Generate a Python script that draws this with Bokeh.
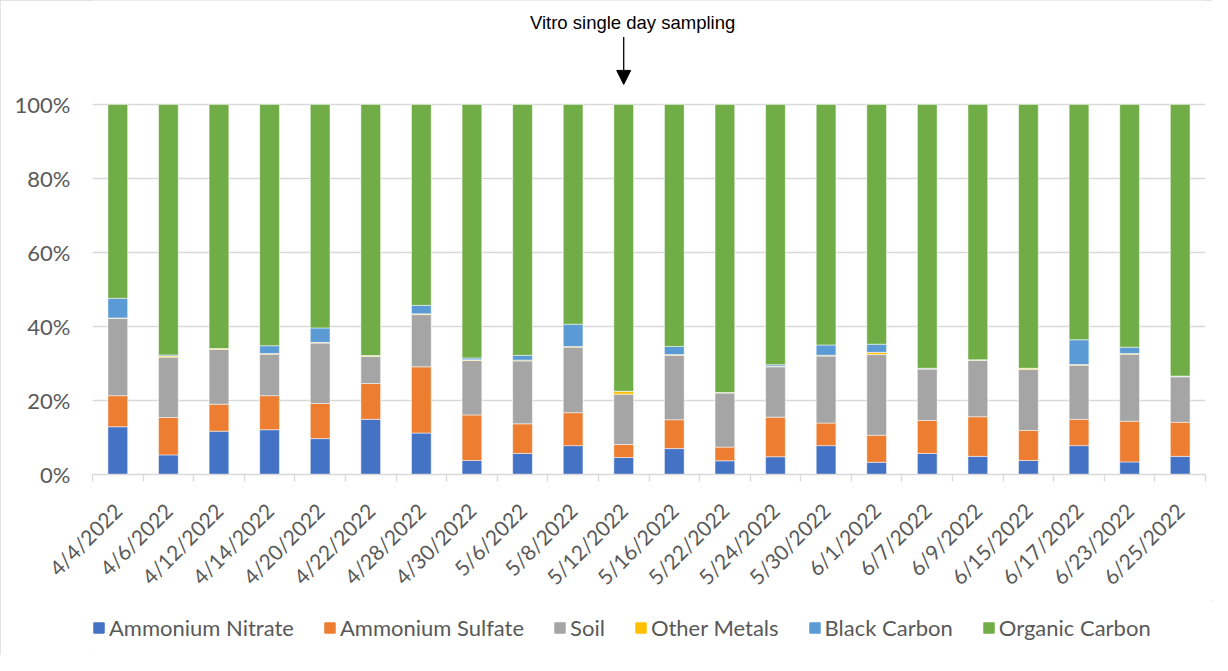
import math
from bokeh.plotting import figure
from bokeh.layouts import column
from bokeh.models import (FixedTicker, NumeralTickFormatter, Legend, LegendItem,
                          Range1d, Arrow, NormalHead, Label, ColumnDataSource)
from bokeh.embed import file_html
from bokeh.resources import INLINE

dates = ["4/4/2022", "4/6/2022", "4/12/2022", "4/14/2022", "4/20/2022", "4/22/2022",
         "4/28/2022", "4/30/2022", "5/6/2022", "5/8/2022", "5/12/2022", "5/16/2022",
         "5/22/2022", "5/24/2022", "5/30/2022", "6/1/2022", "6/7/2022", "6/9/2022",
         "6/15/2022", "6/17/2022", "6/23/2022", "6/25/2022"]

ammonium_nitrate = [12.9, 5.3, 11.7, 12.1, 9.7, 14.9, 11.2, 3.8, 5.7, 7.8, 4.6,
                    7.0, 3.7, 4.8, 7.8, 3.3, 5.7, 4.9, 3.8, 7.8, 3.4, 4.9]
ammonium_sulfate = [8.4, 10.1, 7.3, 9.2, 9.5, 9.7, 17.9, 12.3, 8.0, 8.9, 3.5,
                    7.8, 3.7, 10.7, 6.1, 7.3, 8.9, 10.7, 8.1, 7.1, 11.0, 9.2]
soil = [20.9, 16.3, 14.8, 11.2, 16.3, 7.3, 14.1, 14.7, 17.0, 17.7, 13.6,
        17.4, 14.6, 13.6, 18.1, 21.8, 13.9, 15.3, 16.5, 14.6, 18.1, 12.3]
other_metals = [0.1, 0.3, 0.2, 0.2, 0.2, 0.2, 0.2, 0.2, 0.2, 0.2, 0.8,
                0.2, 0.15, 0.15, 0.2, 0.6, 0.1, 0.1, 0.3, 0.2, 0.2, 0.1]
black_carbon = [5.3, 0.3, 0.05, 2.1, 3.9, 0.05, 2.3, 0.5, 1.3, 6.0, 0.0,
                2.2, 0.0, 0.4, 2.8, 2.2, 0.1, 0.0, 0.0, 6.7, 1.7, 0.1]
organic_carbon = [52.4, 67.7, 65.95, 65.2, 60.4, 67.85, 54.3, 68.5, 67.8, 59.4, 77.5,
                  65.4, 77.85, 70.35, 65.0, 64.8, 71.3, 69.0, 71.3, 63.6, 65.6, 73.4]

series_names = ["Ammonium Nitrate", "Ammonium Sulfate", "Soil", "Other Metals",
                "Black Carbon", "Organic Carbon"]
series_values = [ammonium_nitrate, ammonium_sulfate, soil, other_metals,
                 black_carbon, organic_carbon]
colors = ["#4472C4", "#ED7D31", "#A5A5A5", "#FFC000", "#5B9BD5", "#70AD47"]

y_ticks = [0, 0.2, 0.4, 0.6, 0.8, 1.0]

annotation_text = "Vitro single day sampling"
annotation_index = 10  # 5/12/2022

xs = list(range(len(dates)))
data = {"x": xs}
keys = []
for i, (name, vals) in enumerate(zip(series_names, series_values)):
    k = "s%d" % i
    keys.append(k)
    data[k] = [v / 100.0 for v in vals]
source = ColumnDataSource(data)

FONT = "Lato"
TXT = "#595959"
W = 1212

# main plot: frame from very top (room for annotation) to 0%
p = figure(width=W, height=600, output_backend="svg", toolbar_location=None,
           x_range=Range1d(-0.5, len(dates) - 0.5), y_range=Range1d(0, 1.2807),
           min_border_left=92, min_border_right=7, min_border_top=0,
           min_border_bottom=121)
p.outline_line_color = None
p.background_fill_color = "white"

renderers = p.vbar_stack(keys, x="x", width=0.39, source=source, color=colors,
                         line_color="white", line_alpha=0.5, line_width=1)

# y axis
p.yaxis.ticker = FixedTicker(ticks=y_ticks)
p.yaxis.formatter = NumeralTickFormatter(format="0%")
p.yaxis.axis_line_color = None
p.yaxis.major_tick_line_color = None
p.yaxis.minor_tick_line_color = None
p.yaxis.major_label_standoff = 16
p.yaxis.major_label_text_font = FONT
p.yaxis.major_label_text_font_size = "22px"
p.yaxis.major_label_text_color = TXT
p.ygrid.ticker = FixedTicker(ticks=y_ticks)
p.ygrid.grid_line_color = "#d9d9d9"
p.ygrid.grid_line_width = 1.3

# x axis
p.xaxis.ticker = FixedTicker(ticks=xs, minor_ticks=[i - 0.5 for i in range(len(dates) + 1)])
p.xaxis.major_label_overrides = {i: d for i, d in enumerate(dates)}
p.xaxis.major_tick_line_color = None
p.xaxis.minor_tick_line_color = "#d9d9d9"
p.xaxis.minor_tick_line_width = 1.3
p.xaxis.minor_tick_out = 7
p.xaxis.minor_tick_in = 0
p.xaxis.axis_line_color = "#d9d9d9"
p.xaxis.axis_line_width = 1.3
p.xaxis.major_label_orientation = math.pi / 4
p.xaxis.major_label_standoff = 25
p.xaxis.major_label_text_font = FONT
p.xaxis.major_label_text_font_size = "21px"
p.xaxis.major_label_text_color = TXT
p.xgrid.grid_line_color = None

# annotation
p.add_layout(Arrow(end=NormalHead(size=14, fill_color="black", line_color="black"),
                   x_start=annotation_index, y_start=1.182,
                   x_end=annotation_index, y_end=1.054,
                   line_color="black", line_width=1.3))
p.add_layout(Label(x=annotation_index + 0.176, y=1.222, text=annotation_text,
                   text_align="center", text_baseline="middle",
                   text_font="Liberation Sans", text_font_size="18.5px",
                   text_color="black"))

# legend strip (same stacked series, kept out of view, only used for the legend)
pl = figure(width=W, height=55, output_backend="svg", toolbar_location=None,
            x_range=Range1d(-0.5, len(dates) - 0.5), y_range=Range1d(5, 6),
            x_axis_location=None, y_axis_location=None,
            min_border=0)
pl.outline_line_color = None
pl.xgrid.visible = False
pl.ygrid.visible = False
legend_renderers = pl.vbar_stack(keys, x="x", width=0.39, source=source, color=colors)
items = [LegendItem(label=n, renderers=[r]) for n, r in zip(series_names, legend_renderers)]
legend = Legend(items=items, orientation="horizontal", location=(0, 14),
                glyph_width=13, glyph_height=13, label_standoff=4, spacing=29,
                padding=0, margin=0, border_line_color=None,
                background_fill_alpha=0,
                label_text_font=FONT, label_text_font_size="22px",
                label_text_color=TXT)
pl.add_layout(legend, "center")

layout = column(p, pl, spacing=0)
layout.styles = {"outline": "1px solid #d9d9d9", "outline-offset": "-1px"}

open("out.html", "w").write(file_html(layout, INLINE))
